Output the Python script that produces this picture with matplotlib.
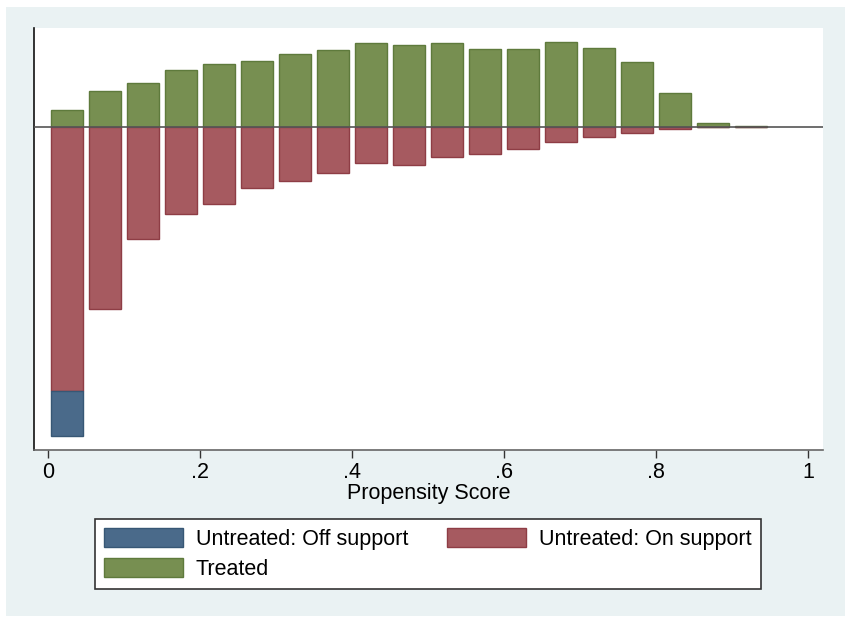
import matplotlib
matplotlib.use("Agg")
import matplotlib.pyplot as plt
from matplotlib.patches import Patch, Rectangle
import numpy as np

plt.rcParams['font.family'] = ['Liberation Sans', 'DejaVu Sans']

# bin centers of propensity score histogram
bin_centers = [0.025, 0.075, 0.125, 0.175, 0.225, 0.275, 0.325, 0.375, 0.425, 0.475,
               0.525, 0.575, 0.625, 0.675, 0.725, 0.775, 0.825, 0.875, 0.925]
# treated (upper side)
treated = [0.17, 0.363, 0.437, 0.573, 0.63, 0.66, 0.73, 0.767, 0.837, 0.823,
           0.837, 0.777, 0.783, 0.85, 0.79, 0.653, 0.343, 0.043, 0.013]
# untreated on support (lower side)
untreated_on = [2.637, 1.823, 1.117, 0.87, 0.77, 0.607, 0.54, 0.457, 0.363, 0.377,
                0.30, 0.273, 0.22, 0.147, 0.10, 0.06, 0.023, 0.0, 0.0]
# untreated off support (stacked below)
untreated_off = [0.453, 0, 0, 0, 0, 0, 0, 0, 0, 0, 0, 0, 0, 0, 0, 0, 0, 0, 0]
xticks = [0, 0.2, 0.4, 0.6, 0.8, 1]
xticklabels = ['0', '.2', '.4', '.6', '.8', '1']

c_green, e_green = '#778F51', '#5E7A3C'
c_red, e_red = '#A65A60', '#8E3D45'
c_blue, e_blue = '#4A6A8A', '#375775'
FS = 15.5

W, H = 851, 623
fig = plt.figure(figsize=(W / 100, H / 100), dpi=100)
fig.patch.set_facecolor('white')
bg = Rectangle((6 / W, 1 - 616 / H), (845 - 6) / W, (616 - 7) / H,
               transform=fig.transFigure, facecolor='#EAF2F3',
               edgecolor='none', zorder=-10)
fig.patches.append(bg)

ax = fig.add_axes([34 / W, 1 - 450 / H, (823 - 34) / W, (450 - 28) / H])
ax.set_zorder(1)
ax.set_facecolor('white')

bw = 0.041
x = np.array(bin_centers)
on = np.array(untreated_on)
off = np.array(untreated_off)
ax.bar(x, treated, width=bw, color=c_green, edgecolor=e_green, linewidth=1, zorder=2)
ax.bar(x, -on, width=bw, color=c_red, edgecolor=e_red, linewidth=1, zorder=2)
mask = off > 0
ax.bar(x[mask], -off[mask], bottom=-on[mask], width=bw, color=c_blue,
       edgecolor=e_blue, linewidth=1, zorder=2)

ax.axhline(0, color='#555555', linewidth=1.2, zorder=3)

ax.set_xlim(-14 / 760, 775 / 760)
ax.set_ylim(-3.23, 0.99)
ax.set_yticks([])
ax.set_xticks(xticks)
ax.set_xticklabels(xticklabels, fontsize=FS)
ax.tick_params(axis='x', direction='out', length=6, width=1, color='#333333', pad=3)
for s in ['top', 'right']:
    ax.spines[s].set_visible(False)
ax.spines['left'].set_color('#111111')
ax.spines['left'].set_linewidth(1.2)
ax.spines['bottom'].set_color('#666666')
ax.spines['bottom'].set_linewidth(1.2)
ax.set_xlabel('Propensity Score', fontsize=FS, labelpad=0)

handles = [Patch(facecolor=c_blue, edgecolor=e_blue, label='Untreated: Off support'),
           Patch(facecolor=c_green, edgecolor=e_green, label='Treated'),
           Patch(facecolor=c_red, edgecolor=e_red, label='Untreated: On support')]
leg = fig.legend(handles=handles, loc='upper left', ncol=2,
                 bbox_to_anchor=(95 / W, 1 - 519 / H), fontsize=FS, frameon=True,
                 fancybox=False, edgecolor='#333333', facecolor='white', framealpha=1,
                 handlelength=3.67, handleheight=1.0, columnspacing=1.8,
                 handletextpad=0.6, labelspacing=0.35, borderpad=0.42,
                 borderaxespad=0)
leg.get_frame().set_linewidth(1.2)

fig.savefig('out.png', dpi=100, facecolor='white')
